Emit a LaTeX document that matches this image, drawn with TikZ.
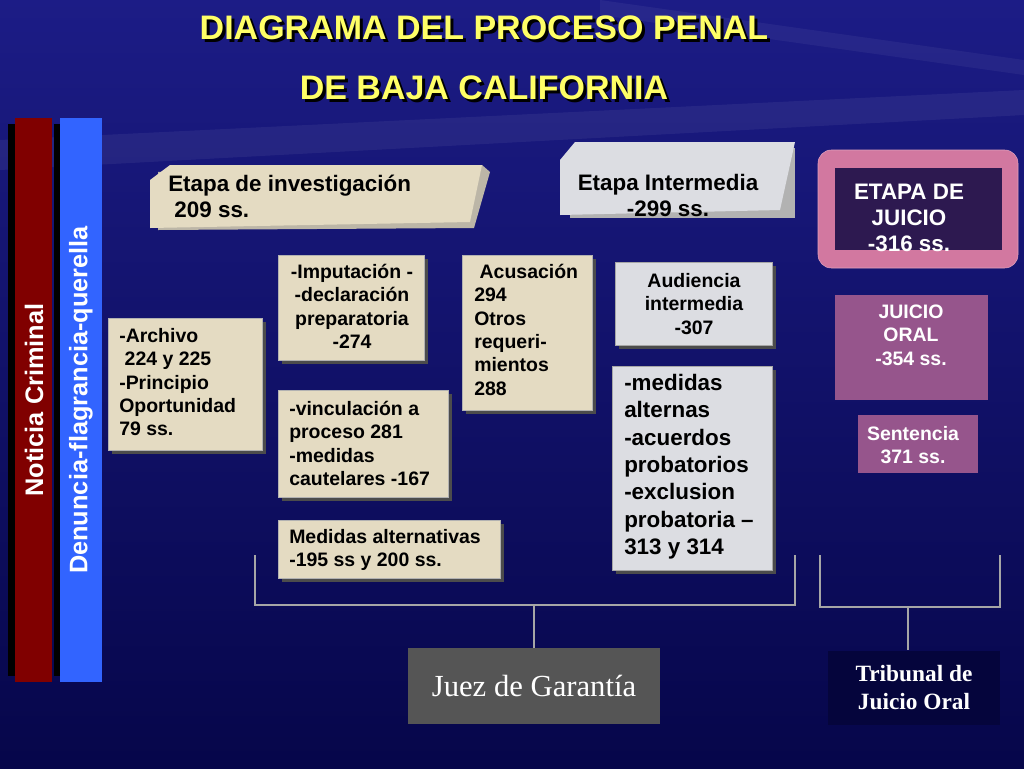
\documentclass[tikz,border=0pt]{standalone}
\usepackage{fontspec}
\setmainfont{Liberation Sans}
\newfontfamily\serifb{Liberation Serif}
\begin{document}
\begin{tikzpicture}[x=0.75pt,y=-0.75pt,
 beige/.style={fill=beigec,draw=gray!60,line width=0.6pt},
 marble/.style={fill=marblec,draw=gray!70,line width=0.6pt},
 shad/.style={fill=black!70},
 txt/.style={font=\bfseries\fontsize{14.6}{17.5}\selectfont,align=left,inner sep=0pt},
 big/.style={font=\bfseries\fontsize{16.8}{19.5}\selectfont},
 ttl/.style={font=\bfseries\fontsize{25.5}{27}\selectfont,text=titley,inner sep=0pt},
 brk/.style={draw=gray!70,line width=0.8pt}]
\definecolor{beigec}{HTML}{E4DBC2}
\definecolor{marblec}{HTML}{DCDDE2}
\definecolor{titley}{HTML}{FFFF66}
\definecolor{bgtop}{HTML}{1C1C86}
\definecolor{bgbot}{HTML}{06064A}
\definecolor{redbar}{HTML}{800000}
\definecolor{bluebar}{HTML}{3264FF}
\definecolor{pinkc}{HTML}{D278A0}
\definecolor{purpd}{HTML}{2D1950}
\definecolor{purpm}{HTML}{96558C}
\definecolor{juezc}{HTML}{555555}
\definecolor{tribc}{HTML}{05053C}
\useasboundingbox (0,0) rectangle (1024,768);
\shade[top color=bgtop,bottom color=bgbot] (0,0) rectangle (1024,768);
\fill[white,opacity=0.06] (0,140) -- (1024,90) -- (1024,115) -- (0,170) -- cycle;
\fill[white,opacity=0.05] (600,0) -- (1024,60) -- (1024,75) -- (600,15) -- cycle;
% title
\node[ttl,text=black] (t1s) at (487,31) {DIAGRAMA DEL PROCESO PENAL};
\node[ttl] (t1) at (484,28) {DIAGRAMA DEL PROCESO PENAL};
\node[ttl,text=black] (t2s) at (487,91) {DE BAJA CALIFORNIA};
\node[ttl] (t2) at (484,88) {DE BAJA CALIFORNIA};
% bars
\fill[black] (8,124) rectangle (46,676);
\fill[redbar] (15,118) rectangle (52,682);
\node[rotate=90,text=white,font=\bfseries\fontsize{19}{20}\selectfont] (nc) at (34,400) {Noticia Criminal};
\fill[black] (54,124) rectangle (94,676);
\fill[bluebar] (60,118) rectangle (102,682);
\node[rotate=90,text=white,font=\bfseries\fontsize{19}{20}\selectfont] (dq) at (81,400) {Denuncia-flagrancia-querella};
% etapa investigacion
\fill[beigec!60!gray] (158,172) -- (482,165) -- (490,172) -- (474,228) -- (158,230) -- cycle;
\fill[beigec] (150,180) -- (170,165) -- (482,165) -- (470,222) -- (150,228) -- cycle;
\node[txt,big,anchor=north west] (ei) at (168,175) {Etapa de investigación\\ \ 209 ss.};
% etapa intermedia
\fill[gray!60] (570,148) rectangle (795,218);
\fill[marblec] (560,160) -- (575,142) -- (795,142) -- (780,210) -- (560,215) -- cycle;
\node[txt,big,align=center] (eint) at (668,195) {Etapa Intermedia\\-299 ss.};
% etapa juicio
\draw[rounded corners=10pt,fill=pinkc,draw=pinkc!70!white] (818,150) rectangle (1018,268);
\fill[purpd] (835,168) rectangle (1002,250);
\node[txt,big,align=center,text=white] (ej) at (909,218) {ETAPA DE\\JUICIO\\-316 ss.};
% beige boxes
\newcommand{\bbox}[4]{\fill[shad] (#1+4,#2+4) rectangle (#3+4,#4+4); \draw[beige] (#1,#2) rectangle (#3,#4);}
\bbox{108}{318}{262}{450}
\node[txt,anchor=north west] (ar) at (119,328) {-Archivo\\ \ 224 y 225\\-Principio\\Oportunidad\\79 ss.};
\bbox{278}{255}{424}{360}
\node[txt,align=center,anchor=north] (imp) at (352,264) {-Imputación -\\-declaración\\preparatoria\\-274};
\bbox{278}{390}{448}{497}
\node[txt,anchor=north west] (vin) at (289,401) {-vinculación a\\proceso 281\\-medidas\\cautelares -167};
\bbox{278}{520}{500}{578}
\node[txt,anchor=north west] (ma) at (289,529) {Medidas alternativas\\-195 ss y 200 ss.};
\bbox{462}{255}{592}{410}
\node[txt,anchor=north west] (ac) at (474,264) {\ Acusación\\294\\Otros\\requeri-\\mientos\\288};
% marble boxes
\fill[shad] (619,266) rectangle (776,349); \draw[marble] (615,262) rectangle (772,345);
\node[txt,align=center] (ai) at (694,304) {Audiencia\\intermedia\\-307};
\fill[shad] (616,370) rectangle (776,574); \draw[marble] (612,366) rectangle (772,570);
\node[txt,anchor=north west,font=\bfseries\fontsize{16.8}{20.5}\selectfont] (mal) at (624,374) {-medidas\\alternas\\-acuerdos\\probatorios\\-exclusion\\probatoria –\\313 y 314};
% juicio oral
\fill[purpm] (835,295) rectangle (988,400);
\node[txt,align=center,text=white] (jo) at (911,335) {JUICIO\\ORAL\\-354 ss.};
\fill[purpm] (858,415) rectangle (978,473);
\node[txt,align=center,text=white] (se) at (913,445) {Sentencia\\371 ss.};
% brackets
\coordinate (b1) at (255,555); \coordinate (b2) at (255,605); \coordinate (b3) at (795,605); \coordinate (b4) at (795,555);
\draw[brk] (b1) -- (b2) -- (b3) -- (b4);
\node[fill=juezc,minimum width=189pt,minimum height=57pt,text=white,font=\serifb\fontsize{23}{24}\selectfont] (jg) at (534,686) {Juez de Garantía};
\coordinate (jt) at (534,605);
\draw[brk] (jt) -- (jg.north);
\coordinate (c1) at (820,555); \coordinate (c2) at (820,607); \coordinate (c3) at (1000,607); \coordinate (c4) at (1000,555);
\draw[brk] (c1) -- (c2) -- (c3) -- (c4);
\node[fill=tribc,minimum width=129pt,minimum height=56pt,text=white,align=center,font=\serifb\bfseries\fontsize{17.5}{21}\selectfont] (to) at (914,688) {Tribunal de\\Juicio Oral};
\coordinate (tt) at (908,607);
\draw[brk] (tt) -- (908,650);
\end{tikzpicture}
\end{document}
